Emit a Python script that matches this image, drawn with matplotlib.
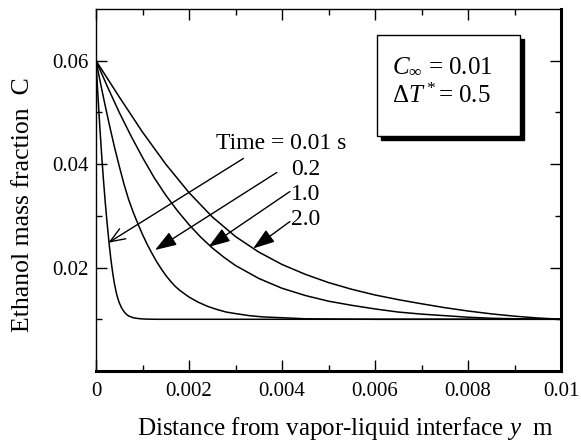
import matplotlib
matplotlib.use("Agg")
import matplotlib.pyplot as plt
from matplotlib.patches import Rectangle
from matplotlib.ticker import MultipleLocator, FixedLocator

plt.rcParams['font.family'] = ['Liberation Serif', 'DejaVu Serif']
plt.rcParams['mathtext.fontset'] = 'custom'
plt.rcParams['mathtext.rm'] = 'Liberation Serif'
plt.rcParams['mathtext.it'] = 'Liberation Serif:italic'

# ---- data ----
x_t001 = [0, 0.00004, 0.00008, 0.00012, 0.00016, 0.0002, 0.00024, 0.00028, 0.00032, 0.00036,
          0.0004, 0.00045, 0.0005, 0.00055, 0.0006, 0.00065, 0.0007, 0.0008, 0.0009, 0.001,
          0.0011, 0.0013, 0.01]
c_t001 = [0.06, 0.0535, 0.0475, 0.0420, 0.0370, 0.0325, 0.0285, 0.0248, 0.0216, 0.0189,
          0.0167, 0.0146, 0.0132, 0.0122, 0.0115, 0.0110, 0.01065, 0.0103, 0.01015, 0.01007,
          0.01003, 0.0100, 0.0100]

x_t02 = [0, 0.0001, 0.0002, 0.0003, 0.0004, 0.0005, 0.0006, 0.0007, 0.0008, 0.0009,
         0.001, 0.0011, 0.0012, 0.0013, 0.0014, 0.0015, 0.0016, 0.0017, 0.0018, 0.002,
         0.0022, 0.0024, 0.0026, 0.0028, 0.003, 0.0033, 0.0036, 0.004, 0.0045, 0.005,
         0.006, 0.01]
c_t02 = [0.06, 0.0555, 0.0512, 0.0471, 0.0432, 0.0396, 0.0362, 0.0332, 0.0307, 0.0285,
         0.0264, 0.0245, 0.0228, 0.0212, 0.0198, 0.0185, 0.0174, 0.0164, 0.0156, 0.0143,
         0.0133, 0.0125, 0.0119, 0.0114, 0.0111, 0.0107, 0.01045, 0.0103, 0.0101, 0.01005,
         0.0100, 0.0100]

x_t1 = [0, 0.00025, 0.0005, 0.00075, 0.001, 0.00125, 0.0015, 0.00175, 0.002, 0.00225,
        0.0025, 0.00275, 0.003, 0.0035, 0.004, 0.0045, 0.005, 0.0055, 0.006, 0.0065,
        0.007, 0.0075, 0.008, 0.0085, 0.009, 0.0095, 0.01]
c_t1 = [0.06, 0.0549, 0.0500, 0.0455, 0.0413, 0.0374, 0.0340, 0.0310, 0.0283, 0.0259,
        0.0238, 0.0220, 0.0204, 0.0179, 0.0160, 0.0146, 0.0135, 0.0127, 0.0120, 0.0114,
        0.0110, 0.0107, 0.0104, 0.0102, 0.0101, 0.01003, 0.0100]

x_t2 = [0, 0.0005, 0.001, 0.0015, 0.002, 0.0025, 0.003, 0.0035, 0.004, 0.0045,
        0.005, 0.0055, 0.006, 0.0065, 0.007, 0.0075, 0.008, 0.0085, 0.009, 0.0095, 0.01]
c_t2 = [0.06, 0.0530, 0.0462, 0.0400, 0.0345, 0.0298, 0.0260, 0.0230, 0.0206, 0.0187,
        0.0171, 0.0158, 0.0147, 0.0138, 0.0130, 0.01225, 0.0116, 0.01105, 0.0106, 0.01025,
        0.0100]

time_labels = ["Time = 0.01 s", "0.2", "1.0", "2.0"]
x_ticks = [0, 0.002, 0.004, 0.006, 0.008, 0.01]
x_tick_labels = ["0", "0.002", "0.004", "0.006", "0.008", "0.01"]
y_ticks = [0.02, 0.04, 0.06]
y_tick_labels = ["0.02", "0.04", "0.06"]

fig = plt.figure(figsize=(5.81, 4.43), dpi=100)
ax = fig.add_axes([96/581, 1-371/443, 465/581, 362/443])

for xs, cs in [(x_t001, c_t001), (x_t02, c_t02), (x_t1, c_t1), (x_t2, c_t2)]:
    ax.plot(xs, cs, color='black', lw=1.1)

ax.set_xlim(0, 0.01)
ax.set_ylim(0, 0.07)
ax.xaxis.set_major_locator(FixedLocator(x_ticks))
ax.set_xticklabels(x_tick_labels)
ax.xaxis.set_minor_locator(MultipleLocator(0.001))
ax.yaxis.set_major_locator(FixedLocator(y_ticks))
ax.set_yticklabels(y_tick_labels)
ax.yaxis.set_minor_locator(FixedLocator([0.01, 0.03, 0.05]))
ax.tick_params(which='both', direction='in', top=True, right=True, labelsize=15, width=1.0)
ax.tick_params(which='major', length=8)
ax.tick_params(which='minor', length=4.5)
ax.tick_params(axis='x', pad=8)
ax.tick_params(axis='y', pad=5)
for s in ['left', 'top']:
    ax.spines[s].set_linewidth(1.0)
for s in ['right', 'bottom']:
    ax.spines[s].set_linewidth(2.2)

fig.text(345/581, 1-428/443, r"Distance from vapor-liquid interface $y$  m", ha='center', va='center', fontsize=18)
fig.text(23/581, 1-205/443, "Ethanol mass fraction  C", ha='center', va='center', rotation=90, fontsize=18.5)

# parameter box with shadow
bx0, bx1 = (377-96)/465, (520-96)/465
by0, by1 = (371-136)/362, (371-35)/362
sh = Rectangle((bx0 + 4/465, by0 - 4/362), bx1-bx0, by1-by0, transform=ax.transAxes,
               facecolor='black', edgecolor='black', zorder=4)
bx = Rectangle((bx0, by0), bx1-bx0, by1-by0, transform=ax.transAxes,
               facecolor='white', edgecolor='black', lw=1.0, zorder=5)
ax.add_patch(sh)
ax.add_patch(bx)
ax.text((392-96)/465, (371-66)/362, r"$C_\infty$ = 0.01", transform=ax.transAxes,
        fontsize=18, va='center', ha='left', zorder=6)
ax.text((392-96)/465, (371-96)/362, r"$\Delta T^*$= 0.5", transform=ax.transAxes,
        fontsize=18, va='center', ha='left', zorder=6)

# labels and arrows
ax.text(0.00539, 0.0440, time_labels[0], ha='right', va='center', fontsize=17)
ax.text(0.00420, 0.0389, time_labels[1], ha='left', va='center', fontsize=17)
ax.text(0.00420, 0.0341, time_labels[2], ha='left', va='center', fontsize=17)
ax.text(0.00420, 0.0292, time_labels[3], ha='left', va='center', fontsize=17)

ax.annotate('', xy=(0.000265, 0.0248), xytext=(0.00317, 0.0411),
            arrowprops=dict(arrowstyle='->,head_length=0.9,head_width=0.35', color='black', lw=1.0,
                            shrinkA=0, shrinkB=0, mutation_scale=12))
filled = dict(arrowstyle='-|>,head_length=1.1,head_width=0.38', color='black', lw=1.0,
              shrinkA=0, shrinkB=0, mutation_scale=12)
ax.annotate('', xy=(0.00127, 0.0234), xytext=(0.00389, 0.0384), arrowprops=filled)
ax.annotate('', xy=(0.00242, 0.0240), xytext=(0.00417, 0.0347), arrowprops=filled)
ax.annotate('', xy=(0.00338, 0.0237), xytext=(0.00417, 0.0289), arrowprops=filled)

fig.savefig("out.png", dpi=100)
